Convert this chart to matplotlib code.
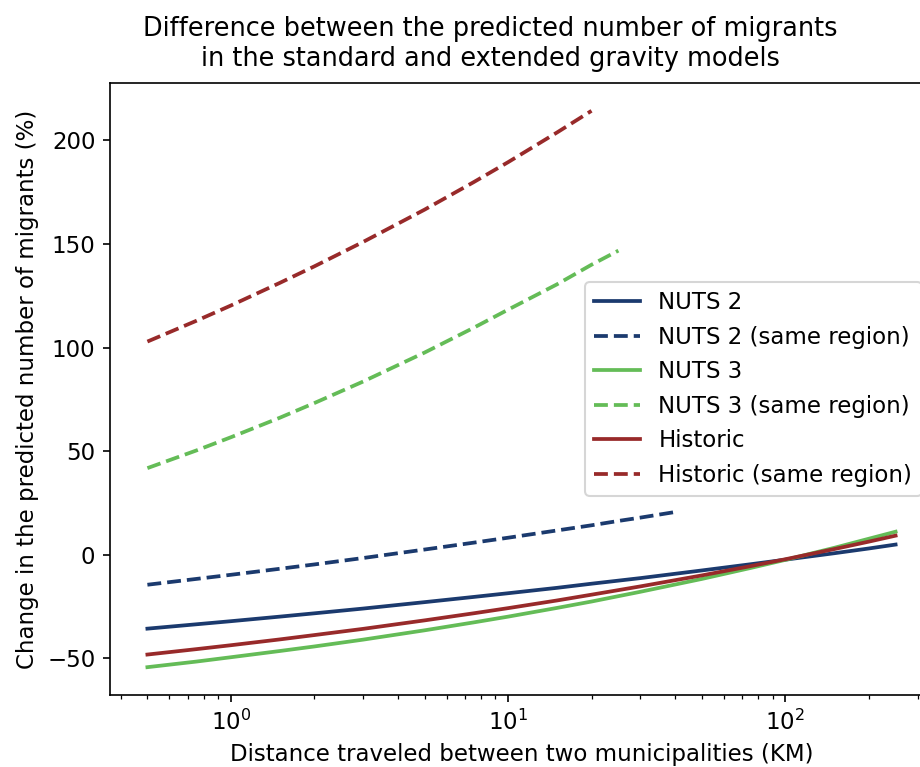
import matplotlib
matplotlib.use("Agg")
import matplotlib.pyplot as plt

# distances (KM)
x_full = [0.5, 0.75, 1, 1.5, 2, 3, 5, 7.5, 10, 15, 20, 30, 50, 75, 100, 150, 200, 250]
nuts2 = [-35.7, -33.6, -32.1, -29.9, -28.3, -26.0, -22.9, -20.4, -18.6, -16.0, -14.0, -11.3, -7.6, -4.6, -2.4, 0.7, 3.0, 4.9]
nuts3 = [-54.3, -51.6, -49.5, -46.5, -44.3, -41.0, -36.5, -32.7, -29.9, -25.7, -22.6, -17.9, -11.7, -6.4, -2.5, 3.3, 7.7, 11.1]
historic = [-48.2, -45.6, -43.7, -40.9, -38.8, -35.8, -31.7, -28.3, -25.8, -22.1, -19.3, -15.3, -10.0, -5.5, -2.2, 2.7, 6.3, 9.2]

x_n2s = [0.5, 0.75, 1, 1.5, 2, 3, 5, 7.5, 10, 15, 20, 25, 30, 40]
nuts2_same = [-14.5, -11.7, -9.7, -6.8, -4.7, -1.6, 2.5, 5.8, 8.2, 11.7, 14.2, 16.3, 17.9, 20.6]

x_n3s = [0.5, 0.75, 1, 1.5, 2, 3, 5, 7.5, 10, 15, 20, 25]
nuts3_same = [41.8, 50.3, 56.7, 66.1, 73.2, 83.6, 97.6, 109.5, 118.3, 130.5, 140.0, 146.8]

x_hs = [0.5, 0.75, 1, 1.5, 2, 3, 5, 7.5, 10, 15, 20]
historic_same = [102.9, 112.9, 120.3, 131.2, 139.2, 151.0, 166.6, 179.8, 189.5, 203.8, 214.3]

c_blue = "#1b3a6e"
c_green = "#64bc57"
c_red = "#982a2a"

plt.rcParams["font.size"] = 11

fig = plt.figure(figsize=(920/150, 767/150), dpi=150)
ax = fig.add_axes([110/920, 1 - 695/767, 823/920, 612/767])

lw = 1.8
ax.plot(x_full, nuts2, color=c_blue, lw=lw, label="NUTS 2")
ax.plot(x_n2s, nuts2_same, color=c_blue, lw=lw, ls="--", label="NUTS 2 (same region)")
ax.plot(x_full, nuts3, color=c_green, lw=lw, label="NUTS 3")
ax.plot(x_n3s, nuts3_same, color=c_green, lw=lw, ls="--", label="NUTS 3 (same region)")
ax.plot(x_full, historic, color=c_red, lw=lw, label="Historic")
ax.plot(x_hs, historic_same, color=c_red, lw=lw, ls="--", label="Historic (same region)")

ax.set_xscale("log")
ax.set_title("Difference between the predicted number of migrants\nin the standard and extended gravity models",
             fontsize=12.3, x=(490 - 110) / 823, pad=8)
ax.set_xlabel("Distance traveled between two municipalities (KM)")
ax.set_ylabel("Change in the predicted number of migrants (%)")
ax.legend(loc="center right")

fig.savefig("out.png", dpi=150)
